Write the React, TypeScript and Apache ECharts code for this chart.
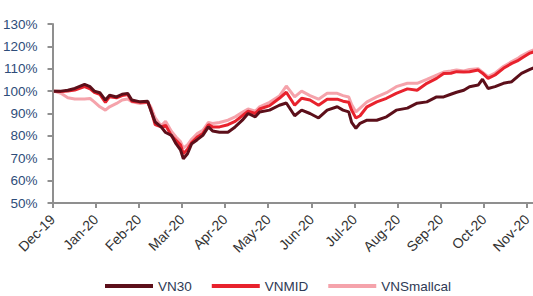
import React, { useEffect, useRef } from "react";
import * as echarts from "echarts";

const monthLabels = ["Dec-19", "Jan-20", "Feb-20", "Mar-20", "Apr-20", "May-20", "Jun-20", "Jul-20", "Aug-20", "Sep-20", "Oct-20", "Nov-20"];
const yTicks = [50, 60, 70, 80, 90, 100, 110, 120, 130];

const dates = [
  "2019-12-02", "2019-12-07", "2019-12-12", "2019-12-17", "2019-12-24", "2019-12-28", "2019-12-31",
  "2020-01-04", "2020-01-08", "2020-01-11", "2020-01-16", "2020-01-20", "2020-01-24", "2020-01-27",
  "2020-02-02", "2020-02-07", "2020-02-09", "2020-02-12", "2020-02-16", "2020-02-19", "2020-02-23", "2020-02-26", "2020-02-29",
  "2020-03-02", "2020-03-05", "2020-03-08", "2020-03-12", "2020-03-16", "2020-03-20", "2020-03-23", "2020-03-28",
  "2020-04-03", "2020-04-08", "2020-04-13", "2020-04-17", "2020-04-22", "2020-04-25",
  "2020-05-02", "2020-05-09", "2020-05-14", "2020-05-20", "2020-05-25", "2020-05-31",
  "2020-06-06", "2020-06-12", "2020-06-19", "2020-06-23", "2020-06-27", "2020-06-29",
  "2020-07-02", "2020-07-05", "2020-07-10", "2020-07-17", "2020-07-24", "2020-07-31",
  "2020-08-08", "2020-08-15", "2020-08-22", "2020-08-29",
  "2020-09-03", "2020-09-08", "2020-09-12", "2020-09-17", "2020-09-21", "2020-09-27", "2020-09-30",
  "2020-10-04", "2020-10-09", "2020-10-15", "2020-10-21", "2020-10-25", "2020-10-28",
  "2020-11-03", "2020-11-08",
];

const vn30 = [
  100, 100, 100.4, 101.2, 103, 102, 100,
  99.3, 96, 98.2, 97.4, 98.6, 99, 96,
  95.2, 95.5, 91.5, 86.2, 84, 81.5, 80.2, 76.5, 73.8,
  69.8, 72, 76.5, 78.3, 80.2, 84, 82.2, 81.6,
  81.6, 84, 87, 90, 88.5, 90.7,
  91.5, 93.7, 94.7, 89, 91.5, 90,
  88, 91.5, 93, 91.5, 90.7, 86,
  83.4, 85.6, 87, 87, 88.5, 91.5,
  92.4, 94.6, 95.2, 97.4,
  97.4, 98.6, 99.5, 100.4, 102, 102.7, 105.3,
  101.2, 102, 103.5, 104.2, 106.4, 107.9,
  109.7, 111,
];

const vnmid = [
  100, 99.8, 100, 100.5, 102, 101, 99.5,
  98.5, 95, 97.5, 97, 98, 98.5, 95.5,
  95, 95, 92, 85, 84, 84.7, 80, 78, 76,
  72, 74, 77, 79.5, 81, 85, 84, 84,
  85, 86.5, 89, 91, 90, 92,
  93.5, 96.8, 99.5, 93.7, 96.8, 96,
  93.7, 96.4, 96.4, 95.5, 95, 91.5,
  88, 89, 93, 95.2, 96.8, 99,
  101, 100.4, 103.5, 105.7,
  107.9, 108, 108.7, 108.5, 108.7, 109.4, 108,
  105.7, 107.2, 110.2, 112.4, 113.5, 114.7,
  117, 118,
];

const vnsmall = [
  100, 99, 97, 96.5, 96.5, 96.7, 95.2,
  93, 91.5, 93, 94.5, 96, 96.5, 95.2,
  94.5, 95, 93, 88, 84.5, 86.5, 82, 79.5, 77.5,
  74.5, 76, 78.5, 81, 82.5, 86, 85.5, 86,
  87, 88.5, 90.5, 92, 91, 93,
  95, 97.8, 102.3, 97.4, 100, 98,
  96.4, 99, 99, 98, 97.4, 94,
  90.7, 92.4, 95.2, 97.4, 99.3, 102,
  103.5, 103.5, 105.3, 107.2,
  108.5, 109, 109.5, 109, 109.7, 110, 108.5,
  106.5, 108, 111, 113.2, 114.5, 115.8,
  117.8, 119,
];

// convert a date to a fractional month index (0 = start of Dec-19)
function monthPos(d: string): number {
  const [y, m, day] = d.split("-").map(Number);
  const idx = (y - 2019) * 12 + (m - 1) - 11;
  const dim = new Date(y, m, 0).getDate();
  return idx + (day - 1) / dim;
}

function pairs(vals: number[]) {
  return dates.map((d, i) => [monthPos(d), vals[i]]);
}

export default function App() {
  const ref = useRef<HTMLDivElement>(null);
  useEffect(() => {
    if (!ref.current) return;
    const chart = echarts.init(ref.current, undefined, { renderer: "svg" });
    const font = "'Liberation Sans', Arial, sans-serif";
    const lineSeries = (name: string, vals: number[], color: string, z: number) => ({
      name,
      type: "line",
      data: pairs(vals),
      showSymbol: false,
      symbol: "none",
      lineStyle: { color, width: 3 },
      itemStyle: { color },
      z,
    });
    chart.setOption({
      animation: false,
      textStyle: { fontFamily: font },
      grid: { left: 52, right: 20, top: 24, bottom: 93 },
      xAxis: {
        type: "value",
        min: 0,
        max: 11.3,
        interval: 1,
        splitLine: { show: false },
        axisLine: { lineStyle: { color: "#8f8f8f", width: 2 } },
        axisTick: { show: true, length: 5, lineStyle: { color: "#8f8f8f", width: 2 } },
        axisLabel: {
          rotate: 45,
          margin: 14,
          color: "#333333",
          fontSize: 14,
          fontFamily: font,
          showMaxLabel: false,
          formatter: (v: number) => (Number.isInteger(v) && monthLabels[v] ? monthLabels[v] : ""),
        },
      },
      yAxis: {
        type: "value",
        min: yTicks[0],
        max: yTicks[yTicks.length - 1],
        interval: 10,
        splitLine: { show: false },
        axisLine: { show: true, lineStyle: { color: "#8f8f8f", width: 2 } },
        axisTick: { show: true, length: 5, lineStyle: { color: "#8f8f8f", width: 2 } },
        axisLabel: {
          margin: 15,
          color: "#2e4d7a",
          fontSize: 13.5,
          fontFamily: font,
          formatter: (v: number) => v + "%",
        },
      },
      legend: {
        left: 105,
        top: 279,
        padding: 0,
        icon: "rect",
        itemWidth: 48,
        itemHeight: 4,
        itemGap: 20,
        textStyle: { color: "#2e3a55", fontSize: 13.5, fontFamily: font },
        data: ["VN30", "VNMID", "VNSmallcal"],
      },
      series: [
        lineSeries("VNSmallcal", vnsmall, "#f5a3ab", 2),
        lineSeries("VNMID", vnmid, "#e8222d", 3),
        lineSeries("VN30", vn30, "#5c0f1a", 4),
      ],
    });
    return () => chart.dispose();
  }, []);
  return (
    <div style={{ position: "absolute", left: 0, top: 0, width: 533, height: 296, overflow: "hidden" }}>
      <div ref={ref} style={{ width: 560, height: 296 }} />
    </div>
  );
}
